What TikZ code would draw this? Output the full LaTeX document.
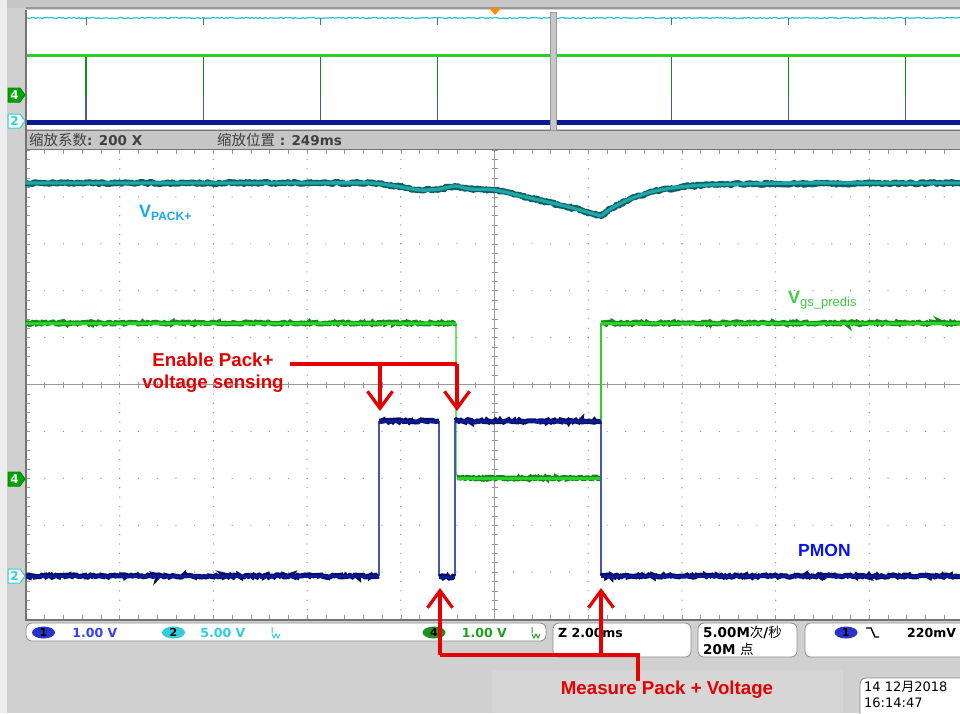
\documentclass[tikz,border=0pt]{standalone}
\usepackage{fontspec}
\setmainfont{Liberation Sans}
\newfontfamily\cjk{Noto Sans CJK SC}
\newfontfamily\scopefont{DejaVu Sans}
\usetikzlibrary{positioning,arrows.meta,decorations.pathmorphing,shapes.geometric}
\definecolor{scopegray}{HTML}{D0D0D0}
\definecolor{bargray}{HTML}{C6C6C6}
\definecolor{annored}{HTML}{E60000}
\definecolor{trcyan}{HTML}{1FA6A6}
\definecolor{trcyandk}{HTML}{0B5E62}
\definecolor{trtop}{HTML}{2CC2CA}
\definecolor{trgreen}{HTML}{2BD12B}
\definecolor{trgreendk}{HTML}{168A16}
\definecolor{trnavy}{HTML}{0B1A92}
\definecolor{trnavydk}{HTML}{050F66}
\definecolor{edgeblue}{HTML}{4B57A8}
\definecolor{lblcyan}{HTML}{1BA9E3}
\definecolor{lblgreen}{HTML}{3ECC3E}
\definecolor{lblblue}{HTML}{0A14E6}
\definecolor{stblue}{HTML}{3340FF}
\definecolor{stcyan}{HTML}{30CDDC}
\definecolor{stgreen}{HTML}{20A020}

\begin{document}
\begin{tikzpicture}[x=1pt,y=-1pt,
  noisy/.style={decorate,decoration={random steps,segment length=1.6pt,amplitude=#1}},
  griddot/.style={fill=black!45},
  tick/.style={draw=black!40,line width=0.6pt},
  annotext/.style={text=annored,font=\fontsize{18.7}{22}\selectfont\bfseries,align=center,inner sep=0pt},
  redline/.style={draw=annored,line width=3.4pt},
  redarrow/.style={redline,-{Straight Barb[length=17pt,width=25pt,line width=3.2pt]}},
  stat/.style={font=\scopefont\fontsize{12.5}{15}\selectfont\bfseries,inner sep=0pt,anchor=west},
  oval/.style={ellipse,minimum width=23pt,minimum height=12pt,inner sep=0pt,font=\scopefont\fontsize{11}{12}\selectfont\bfseries},
  statbox/.style={draw=black!45,fill=white,rounded corners=6pt,line width=0.8pt},
  chmark/.style={draw=#1,line width=1pt,line join=round}]
\useasboundingbox (0,0) rectangle (960,713);
\clip (0,0) rectangle (960,713);
\pgfmathsetseed{7}

% screen
\fill[black!7] (0,0) rectangle (960,713);
\fill[scopegray] (7,0) rectangle (960,713);
\fill[black!16] (492,670) rectangle (843,713);
\fill[bargray] (7,0) rectangle (960,8);
\draw[black!40,line width=1.5pt] (26,8) -- (960,8);

% zoom window
\fill[white] (26,9.5) rectangle (963,129);
\fill[bargray] (26,130) rectangle (963,149);
\draw[black!55,line width=1pt] (26,130) -- (963,130) (26,149) -- (963,149);
\node[stat,font=\scopefont\fontsize{13.5}{15}\selectfont\bfseries,text=black!75] (zfac) at (29,140) {{\cjk\mdseries\fontsize{14.5}{15}\selectfont 缩放系数}: 200 X};
\node[stat,font=\scopefont\fontsize{13.5}{15}\selectfont\bfseries,text=black!75] (zpos) at (217,140) {{\cjk\mdseries\fontsize{14.5}{15}\selectfont 缩放位置} : 249ms};

\draw[trtop,line width=1.2pt,noisy=0.6pt] (26,18) -- (963,18);
\foreach \k in {0,...,7}{
  \draw[trtop!70!black,line width=1pt] ({86+\k*117.1},18) -- ++(0,7);
  \draw[trgreendk,line width=1.2pt] ({86+\k*117.1},55) -- ++(0,41);
  \draw[edgeblue,line width=1.2pt] ({86+\k*117.1},96) -- ++(0,26);
}
\draw[trgreen,line width=3pt] (26,55) -- (963,55);
\draw[trnavy,line width=5pt] (26,122) -- (963,122);
\fill[black!22,draw=black!40] (550,12) rectangle (556,130);
\fill[orange!90!yellow] (489,8) -- (501,8) -- (495,15) -- cycle;

% main graticule
\fill[white] (26,150) rectangle (963,619);
\foreach \i in {1,...,9}
  \foreach \j in {0,...,50}
    \fill[griddot] ({26+\i*93.7},{150+\j*9.38}) circle (0.65);
\foreach \j in {1,...,9}
  \foreach \i in {0,...,50}
    \fill[griddot] ({26+\i*18.74},{150+\j*46.9}) circle (0.65);
\draw[tick] (26,384.5) -- (963,384.5) (494.5,150) -- (494.5,619);
\foreach \i in {0,...,50}{
  \draw[tick] ({26+\i*18.74},381.5) -- ++(0,6);
  \draw[tick] ({26+\i*18.74},150) -- ++(0,4);
  \draw[tick] ({26+\i*18.74},619) -- ++(0,-4);
}
\foreach \j in {0,...,50}{
  \draw[tick] (491.5,{150+\j*9.38}) -- ++(6,0);
  \draw[tick] (26,{150+\j*9.38}) -- ++(4,0);
}
\draw[black!55,line width=1.5pt] (26,9.5) -- (26,620) -- (963,620);

% VPACK+
\draw[trcyandk,line width=6pt,noisy=1.1pt,line join=round] (26,183) -- (370,183) -- (382,184) -- (395,186) -- (420,190) -- (440,189) -- (455,186) -- (470,189) -- (495,190) -- (530,198) -- (565,206) -- (601,216) -- (612,208) -- (630,199) -- (655,191) -- (690,186) -- (740,184) -- (963,183);
\draw[trcyan,line width=3.4pt] plot[smooth,tension=0.5] coordinates {(26,183) (80,183) (140,183) (200,183) (260,183) (320,183) (370,183) (395,186) (420,190) (440,189) (455,186) (470,189) (495,190) (530,198) (565,206) (601,216)};
\draw[trcyan,line width=3.4pt] plot[smooth,tension=0.5] coordinates {(601,216) (612,208) (630,199) (655,191) (690,186) (740,184) (800,183) (860,183) (920,183) (963,183)};

% Vgs_predis
\draw[trgreen,line width=1.2pt] (456,323) -- (456,472) to[out=-90,in=180] (462,478);
\draw[trgreen,line width=1.2pt] (601,478) -- (601,323);
\foreach \a/\b/\y in {26/456/323, 457/601/478, 601/963/323}{
  \draw[trgreendk,line width=5pt,noisy=1pt] (\a,\y) -- (\b,\y);
  \draw[trgreen,line width=3pt] (\a,\y) -- (\b,\y);
}

% PMON
\foreach \x in {379,439,455,601}
  \draw[edgeblue,line width=1.3pt] (\x,421) -- (\x,576);
\foreach \a/\b/\y in {26/379/576, 379/439/421, 439/455/577, 455/601/421, 601/963/576}{
  \draw[trnavydk,line width=5pt,noisy=1.1pt] (\a,\y) -- (\b,\y);
  \draw[trnavy,line width=3pt] (\a,\y) -- (\b,\y);
}

% channel markers
\foreach \y/\n in {95/4,479/4}{
  \filldraw[chmark=green!55!black,fill=green!65!black] (8,\y-7) -- (20,\y-7) -- (25,\y) -- (20,\y+7) -- (8,\y+7) -- cycle;
  \node[text=white,font=\scopefont\fontsize{12}{12}\selectfont\bfseries,inner sep=0pt] (m\y) at (14.5,\y) {\n};
}
\foreach \y/\n in {121/2,576/2}{
  \filldraw[chmark=stcyan,fill=white] (8,\y-7) -- (20,\y-7) -- (25,\y) -- (20,\y+7) -- (8,\y+7) -- cycle;
  \node[text=stcyan,font=\scopefont\fontsize{12}{12}\selectfont\bfseries,inner sep=0pt] (m\y) at (14.5,\y) {\n};
}

% trace labels
\node[anchor=base west,inner sep=0pt,text=lblcyan,font=\bfseries] (vpack) at (139,217)
  {\fontsize{18}{20}\selectfont V\fontsize{12}{14}\selectfont\raisebox{-3pt}{PACK+}};
\node[anchor=base west,inner sep=0pt,text=lblgreen,font=\bfseries] (vgs) at (788,303)
  {\fontsize{18}{20}\selectfont V\fontsize{13}{14}\selectfont\mdseries\raisebox{-3pt}{gs\_predis}};
\node[anchor=base west,inner sep=0pt,text=lblblue,font=\fontsize{17.5}{20}\selectfont\bfseries] (pmon) at (798,556) {PMON};

% status bar
\draw[statbox] (26,623) rectangle (546,641);
\draw[statbox] (553,623) rectangle (691,657);
\draw[statbox] (698,623) rectangle (797,657);
\draw[statbox] (805,623) rectangle (975,657);
\draw[statbox] (860,678) rectangle (975,725);
\node[oval,fill=stblue!80!black] (ch1) at (43.5,632.5) {1};
\node[stat,text=stblue,right=17pt of ch1] (ch1v) {1.00 V};
\node[oval,fill=stcyan] (ch2) at (173.5,632.5) {2};
\node[stat,text=stcyan,right=15pt of ch2] (ch2v) {5.00 V};
\draw[stcyan,line width=1pt] (272,627) -- (272,633) (272,634) -- (274,638) -- (276,634) -- (278,638) -- (280,634);
\node[oval,fill=stgreen!90!black] (ch4) at (434,632.5) {4};
\node[stat,text=stgreen,right=16pt of ch4] (ch4v) {1.00 V};
\draw[stgreen,line width=1pt] (532,627) -- (532,633) (532,634) -- (534,638) -- (536,634) -- (538,638) -- (540,634);
\node[stat] (hscale) at (558,633) {Z 2.00ms};
\node[stat,anchor=north west,align=left,font=\scopefont\fontsize{13.5}{17}\selectfont\bfseries] (rate) at (703,626)
  {5.00M{\cjk\mdseries 次}/{\cjk\mdseries 秒}\\20M {\cjk\mdseries 点}};
\node[oval,fill=stblue!80!black] (trch) at (846,632.5) {1};
\draw[black,line width=1.4pt] (866,628) -- (871,628) -- (875,637) -- (879,637);
\node[stat] (trlev) at (907,633) {220mV};
\node[stat,anchor=north west,align=left,font=\scopefont\fontsize{13}{16}\selectfont] (date) at (864,681)
  {14 12{\cjk 月}2018\\16:14:47};

% annotations
\node[annotext] (enable) at (213,373) {Enable Pack+\\voltage sensing};
\coordinate (eA) at (380,411);
\coordinate (eB) at (457,411);
\coordinate (ejoin) at (457,364);
\draw[redline] (290,364) -- (ejoin);
\draw[redarrow] (eA |- ejoin) -- (eA);
\draw[redarrow] (ejoin) -- (eB);

\coordinate (mjoin) at (638,655);
\node[annotext,below=26pt of mjoin,xshift=29pt] (measure) {Measure Pack + Voltage};
\coordinate (mA) at (440,588);
\coordinate (mB) at (601,588);
\draw[redline] (mjoin |- measure.north) -- ++(0,-3) -- (mjoin) -- (mjoin -| mA);
\draw[redarrow] (mjoin -| mA) -- (mA);
\draw[redarrow] (mjoin -| mB) -- (mB);
\end{tikzpicture}
\end{document}
